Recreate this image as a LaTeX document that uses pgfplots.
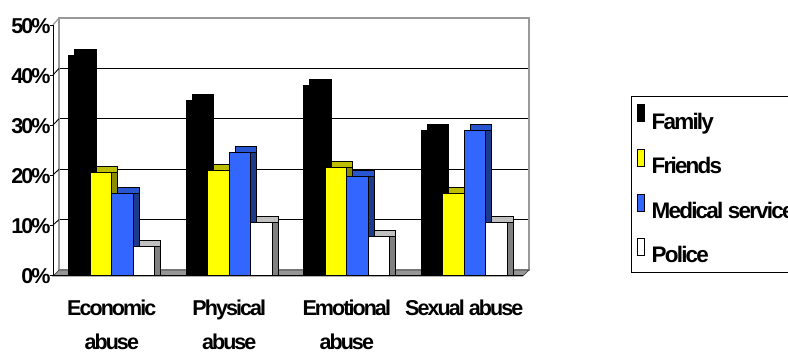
\documentclass[border=0pt]{standalone}
\usepackage{fontspec}
\setmainfont{Liberation Sans}
\newfontfamily\cf[LetterSpace=-9]{Liberation Sans}
\newfontfamily\lf[LetterSpace=-8]{Liberation Sans}
\usepackage{pgfplots}
\usepackage{pgfplotstable}
\pgfplotsset{compat=1.18}
\definecolor{yfront}{RGB}{255,255,0}
\definecolor{ytop}{RGB}{190,190,0}
\definecolor{yside}{RGB}{140,140,0}
\definecolor{bfront}{RGB}{51,102,255}
\definecolor{btop}{RGB}{40,85,208}
\definecolor{bside}{RGB}{30,58,140}
\definecolor{wtop}{RGB}{192,192,192}
\definecolor{wside}{RGB}{128,128,128}
\definecolor{floorc}{RGB}{150,150,150}

\pgfplotstableread{
x family friends medical police
1 44   20.6 16.3 5.8
2 35   20.9 24.5 10.5
3 38   21.5 19.7 7.7
4 29   16.3 28.9 10.5
}\data

\newcommand{\barset}[5]{% col, shift, top, side, front
  \addplot[ybar, bar width=21.5pt, bar shift=#2, xshift=6pt, yshift=6pt, fill=#3, draw=black, line width=0.7pt, forget plot] table[x=x,y=#1]{\data};
  \addplot[ybar, bar width=21.5pt, bar shift=#2, xshift=6pt, fill=#4, draw=black, line width=0.7pt, forget plot] table[x=x,y=#1]{\data};
  \addplot[ybar, bar width=21.5pt, bar shift=#2, fill=#5, draw=black, line width=0.7pt] table[x=x,y=#1]{\data};
}

\begin{document}
\begin{tikzpicture}
\path[use as bounding box] (0pt,0pt) rectangle (788pt,354pt);
% back wall
\begin{axis}[at={(59pt,84pt)}, anchor=south west, scale only axis,
  width=470pt, height=252pt, xmin=0, xmax=1, ymin=0, ymax=50,
  enlargelimits=false, xtick=\empty, ytick={10,20,30,40}, yticklabels={},
  ymajorgrids, major grid style={black, line width=0.9pt},
  major tick length=0pt, axis line style={draw=gray!80, line width=1.2pt}]
\end{axis}
% left wall slants
\foreach \v in {10,20,30,40} \draw[black, line width=0.9pt] (53pt,{(79+5*\v)*1pt}) -- (59pt,{(84+5.04*\v)*1pt});
\draw[gray!80, line width=1.2pt] (53pt,329pt) -- (59pt,336pt);
% floor
\filldraw[fill=floorc, draw=gray!40!black, line width=0.7pt] (53pt,78pt) -- (523pt,78pt) -- (529pt,84pt) -- (59pt,84pt) -- cycle;
% front axis with bars
\begin{axis}[at={(53pt,79pt)}, anchor=south west, scale only axis,
  width=470pt, height=250pt, xmin=0.5, xmax=4.5, ymin=0, ymax=50,
  enlargelimits=false, clip=false, ybar,
  axis x line*=bottom, axis y line*=left,
  axis line style={black, line width=0.9pt},
  tick align=outside,
  xtick={1,2,3,4},
  xticklabels={Economic\\abuse, Physical\\abuse, Emotional\\abuse, Sexual abuse},
  x tick style={draw=none},
  extra x ticks={1.5,2.5,3.5,4.5}, extra x tick labels={},
  extra x tick style={major tick length=7pt, tick style={draw=black, line width=0.9pt}},
  ytick={0,10,20,30,40,50},
  yticklabels={0\%,10\%,20\%,30\%,40\%,50\%},
  y tick style={black, line width=0.9pt}, major tick length=3pt,
  tick label style={font=\cf\bfseries\fontsize{21.5}{34}\selectfont},
  xticklabel style={align=center, yshift=-18pt},
  yticklabel style={xshift=4pt, yshift=-1pt},
  legend cell align=left,
  legend style={at={(1.2298,0.716)}, anchor=north west, draw=black, line width=0.9pt,
    font=\lf\bfseries\fontsize{22.5}{26}\selectfont, inner xsep=6pt, inner ysep=8pt,
    row sep=18pt, nodes={text height=16.5pt, text depth=0pt},
    /tikz/every odd column/.append style={column sep=5pt}},
  legend image code/.code={\draw[#1, draw=black, line width=0.7pt] (0pt,-1pt) rectangle (6.5pt,16pt);},
]
\barset{family}{-32.25pt}{black}{black}{black}
\barset{friends}{-10.75pt}{ytop}{yside}{yfront}
\barset{medical}{10.75pt}{btop}{bside}{bfront}
\barset{police}{32.25pt}{wtop}{wside}{white}
\legend{Family, Friends, Medical service, Police}
\end{axis}
\end{tikzpicture}
\end{document}
